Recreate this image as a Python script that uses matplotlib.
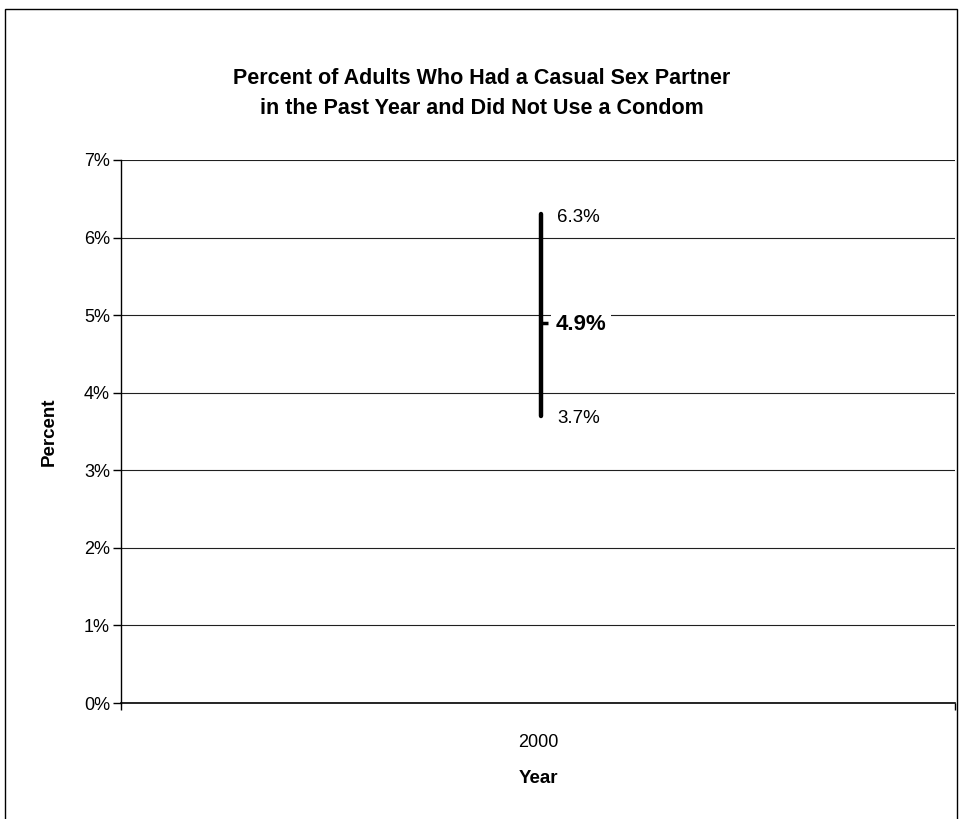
import matplotlib
matplotlib.use("Agg")
import matplotlib.pyplot as plt
from matplotlib.patches import Rectangle

categories = ["2000"]
estimate = [4.9]
upper = [6.3]
lower = [3.7]
yticks = [0, 1, 2, 3, 4, 5, 6, 7]

plt.rcParams['font.family'] = ['Liberation Sans', 'DejaVu Sans']

W, H = 964, 819
fig = plt.figure(figsize=(W / 100, H / 100), dpi=100)
fig.patch.set_facecolor('white')
# outer frame
fig.patches.append(Rectangle((5 / W, -0.05), (957 - 5) / W, 1 - 9 / H + 0.05,
                             transform=fig.transFigure, fill=False,
                             edgecolor='black', linewidth=1.0))

left, right, top, bottom = 121, 955, 160, 703
ax = fig.add_axes([left / W, 1 - bottom / H, (right - left) / W, (bottom - top) / H])
ax.set_xlim(-0.5, 0.5)
ax.set_ylim(0, 7)
ax.set_yticks(yticks)
ax.set_yticklabels([f"{v}%" for v in yticks], fontsize=13)
ax.yaxis.grid(True, color='#202020', linewidth=0.8)
ax.set_axisbelow(True)
for s in ['top', 'right']:
    ax.spines[s].set_visible(False)
ax.spines['left'].set_linewidth(1.0)
ax.spines['bottom'].set_linewidth(1.2)
ax.tick_params(axis='y', direction='out', length=6, width=1, pad=2)
ax.set_xticks([-0.5, 0.5])
ax.set_xticklabels(["", ""])
ax.tick_params(axis='x', direction='out', length=5, width=1)
ax.set_xticks([0], minor=True)
ax.set_xticklabels(categories, minor=True, fontsize=13)
ax.tick_params(axis='x', which='minor', length=0, pad=22)

for i, (e, u, l) in enumerate(zip(estimate, upper, lower)):
    x = i + 0.003
    ax.plot([x, x], [l, u], color='black', linewidth=3.2, solid_capstyle='round')
    ax.plot([x], [e], marker=1, markersize=5, markeredgewidth=2.5, color='black')
    ax.annotate(f"{u}%", (x, u), xytext=(12, -2), textcoords='offset points',
                fontsize=13.5, va='center', ha='left')
    ax.annotate(f"{l}%", (x, l), xytext=(12, -2), textcoords='offset points',
                fontsize=13.5, va='center', ha='left')
    ax.annotate(f"{e}%", (x, e), xytext=(11, -1.5), textcoords='offset points',
                fontsize=16, fontweight='bold', va='center', ha='left',
                bbox=dict(boxstyle='square,pad=0.2', facecolor='white', edgecolor='none'))

ax.set_ylabel("Percent", fontsize=13.5, fontweight='bold', labelpad=19)
ax.set_xlabel("Year", fontsize=13.5, fontweight='bold', labelpad=14)

fig.text(482 / W, 1 - 78 / H, "Percent of Adults Who Had a Casual Sex Partner",
         ha='center', va='center', fontsize=15.5, fontweight='bold')
fig.text(482 / W, 1 - 109 / H, "in the Past Year and Did Not Use a Condom",
         ha='center', va='center', fontsize=15.5, fontweight='bold')

fig.savefig("out.png", dpi=100, facecolor='white')
